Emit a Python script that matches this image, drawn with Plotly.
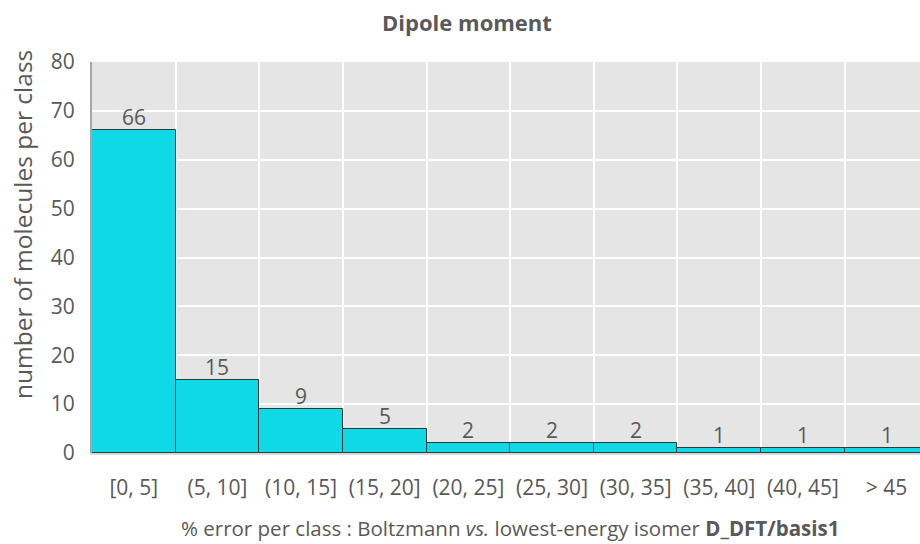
import plotly.graph_objects as go

categories = ["[0, 5]", "(5, 10]", "(10, 15]", "(15, 20]", "(20, 25]",
              "(25, 30]", "(30, 35]", "(35, 40]", "(40, 45]", "> 45"]
counts = [66, 15, 9, 5, 2, 2, 2, 1, 1, 1]

FONT = "'Open Sans', sans-serif"
GRAY = "#595959"

fig = go.Figure(go.Bar(
    x=categories, y=counts,
    marker=dict(color="#0FD9E4", line=dict(color="#2b3a3c", width=1)),
    hoverinfo="x+y",
))

# value labels above bars
for c, v in zip(categories, counts):
    fig.add_annotation(x=c, y=v, text=str(v), showarrow=False,
                       xanchor="center", yanchor="middle", yshift=13,
                       font=dict(size=21, color=GRAY, family=FONT))

# y-axis title (placed slightly above the plot centre, as in the original)
fig.add_annotation(text="number of molecules per class", textangle=-90,
                   xref="paper", yref="paper", x=-0.0845, y=0.583,
                   xanchor="center", yanchor="middle", showarrow=False,
                   font=dict(size=24.5, color=GRAY, family=FONT))

# x-axis title
fig.add_annotation(text="% error per class : Boltzmann <i>vs.</i> lowest-energy isomer <b>D_DFT/basis1</b>",
                   xref="paper", yref="paper", x=0.5048, y=-0.193,
                   xanchor="center", yanchor="middle", showarrow=False,
                   font=dict(size=20.5, color=GRAY, family=FONT))

fig.update_layout(
    width=920, height=544,
    margin=dict(l=92, r=0, t=62, b=91),
    paper_bgcolor="white", plot_bgcolor="#E5E5E5",
    bargap=0,
    showlegend=False,
    title=dict(text="<b>Dipole moment</b>", x=0.5076, xanchor="center", y=0.958, yanchor="middle",
               font=dict(size=22, color=GRAY, family=FONT)),
    font=dict(family=FONT, color=GRAY, size=16),
)
fig.update_xaxes(
    range=[-0.5, 9.4],
    tickson="boundaries", showgrid=True, gridcolor="white", gridwidth=2,
    ticks="", tickfont=dict(size=21, color=GRAY), ticklabelstandoff=15,
    showline=True, linecolor="#D9D9D9", linewidth=2, automargin=False,
)
fig.update_yaxes(
    range=[0, 80], dtick=10, showgrid=True, gridcolor="white", gridwidth=2,
    tickfont=dict(size=21, color=GRAY), ticks="", ticklabelstandoff=11,
    showline=True, linecolor="#A6A6A6", linewidth=2, zeroline=False, automargin=False,
)

fig.write_html("out.html", config={"displayModeBar": False},
               post_script="document.body.style.margin='0';document.body.style.overflow='hidden';")
